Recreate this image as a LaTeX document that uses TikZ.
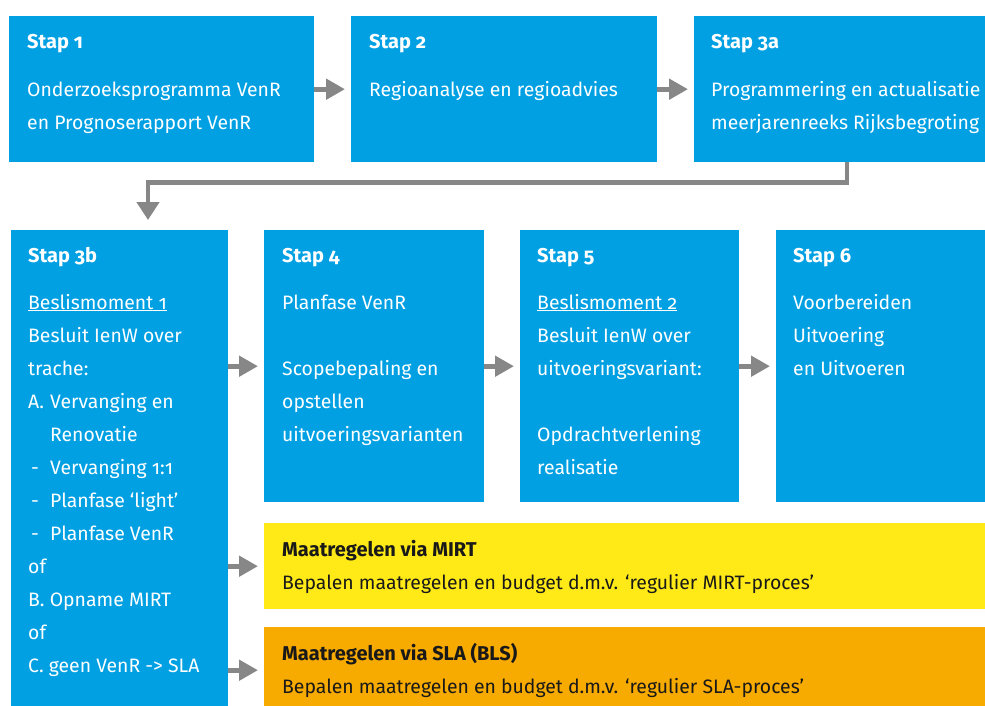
\documentclass[tikz,border=0pt]{standalone}
\usepackage{fontspec}
\setmainfont{Fira Sans}[Numbers=OldStyle]
\usetikzlibrary{arrows.meta}

\definecolor{vblue}{RGB}{0,160,227}
\definecolor{vyellow}{RGB}{255,234,24}
\definecolor{vorange}{RGB}{247,170,0}
\definecolor{vgray}{RGB}{135,135,135}
\definecolor{vdark}{RGB}{25,25,25}

% stacked lines, aligned on the baseline of the first line
\newcommand\txtrows[1]{\begin{tabular}[t]{@{}l@{}}#1\end{tabular}}
\newcommand\ind{\makebox[22pt][l]{}}
\newcommand\dashitem{\hspace{3pt}\makebox[19pt][l]{-}}

\tikzset{
  box/.style={fill=vblue, draw=none, inner sep=0pt, anchor=north west},
  hd/.style={anchor=base west, inner sep=0pt, text=white,
    font=\fontsize{20}{33}\selectfont\bfseries},
  bd/.style={anchor=base west, inner sep=0pt, text=white,
    font=\fontsize{19.4}{33}\selectfont},
  dark/.style={text=vdark},
  conn/.style={draw=vgray, line width=5pt, shorten >=6pt,
    -{Triangle[length=19pt,width=20pt]}},
  connv/.style={draw=vgray, line width=4.5pt, shorten >=10pt,
    -{Triangle[length=18pt,width=22pt]}},
}

\begin{document}
\begin{tikzpicture}[x=1pt,y=-1pt]
\useasboundingbox (0,0) rectangle (985,706);
\clip (0,0) rectangle (985,706);
\fill[white] (0,0) rectangle (985,706);

% step boxes
\node[box, minimum width=305pt, minimum height=146pt] (s1) at (9,16) {};
\node[box, minimum width=306pt, minimum height=146pt] (s2) at (351,16) {};
\node[box, minimum width=306pt, minimum height=146pt] (s3a) at (694,16) {};
\node[box, minimum width=217pt, minimum height=500pt] (s3b) at (11,230) {};
\node[box, minimum width=220pt, minimum height=272pt] (s4) at (264,230) {};
\node[box, minimum width=219pt, minimum height=272pt] (s5) at (520,230) {};
\node[box, minimum width=220pt, minimum height=272pt] (s6) at (776,230) {};
\node[box, fill=vyellow, minimum width=740pt, minimum height=86pt] (mirt) at (264,523) {};
\node[box, fill=vorange, minimum width=740pt, minimum height=86pt] (sla) at (264,627) {};

% connectors
\draw[conn] (s1) -- (s2);
\draw[conn] (s2) -- (s3a);
\draw[connv] (s3a.south) -- ++(0,20) -| ([xshift=137pt]s3b.north west);
\draw[conn] (s4.west -| s3b.east) -- (s4.west);
\draw[conn] (s4) -- (s5);
\draw[conn] (s5) -- (s6);
\draw[conn] (mirt.west -| s3b.east) -- (mirt.west);
\draw[conn] (sla.west -| s3b.east) -- (sla.west);

% texts, top row
\node[hd] (h1) at (27,49) {Stap 1};
\node[bd] (b1) at (27,97) {\txtrows{Onderzoeksprogramma VenR\\en Prognoserapport VenR}};
\node[hd] (h2) at (369,49) {Stap 2};
\node[bd] (b2) at (369,97) {\txtrows{Regioanalyse en regioadvies}};
\node[hd] (h3a) at (711,49) {Stap 3a};
\node[bd] (b3a) at (711,97) {\txtrows{Programmering en actualisatie\\meerjarenreeks Rijksbegroting}};

% texts, second row
\node[hd] (h3b) at (28,262) {Stap 3b};
\node[bd] (b3b) at (28,309) {\txtrows{\underline{Beslismoment 1}\\
  Besluit IenW over\\
  trache:\\
  \makebox[22pt][l]{A.}Vervanging en\\
  \ind Renovatie\\
  \dashitem Vervanging 1:1\\
  \dashitem Planfase ‘light’\\
  \dashitem Planfase VenR\\
  of\\
  B. Opname MIRT\\
  of\\
  C. geen VenR -> SLA}};
\node[hd] (h4) at (282,262) {Stap 4};
\node[bd] (b4) at (282,309) {\txtrows{Planfase VenR\\ \\Scopebepaling en\\opstellen\\uitvoeringsvarianten}};
\node[hd] (h5) at (537,262) {Stap 5};
\node[bd] (b5) at (537,309) {\txtrows{\underline{Beslismoment 2}\\Besluit IenW over\\uitvoeringsvariant:\\ \\Opdrachtverlening\\realisatie}};
\node[hd] (h6) at (793,262) {Stap 6};
\node[bd] (b6) at (793,309) {\txtrows{Voorbereiden\\Uitvoering\\en Uitvoeren}};

% measures
\node[hd, dark] (hm) at (282,556) {Maatregelen via MIRT};
\node[bd, dark] (bm) at (282,589) {Bepalen maatregelen en budget d.m.v. ‘regulier MIRT-proces’};
\node[hd, dark] (hs) at (282,660) {Maatregelen via SLA (BLS)};
\node[bd, dark] (bs) at (282,693) {Bepalen maatregelen en budget d.m.v. ‘regulier SLA-proces’};
\end{tikzpicture}
\end{document}
